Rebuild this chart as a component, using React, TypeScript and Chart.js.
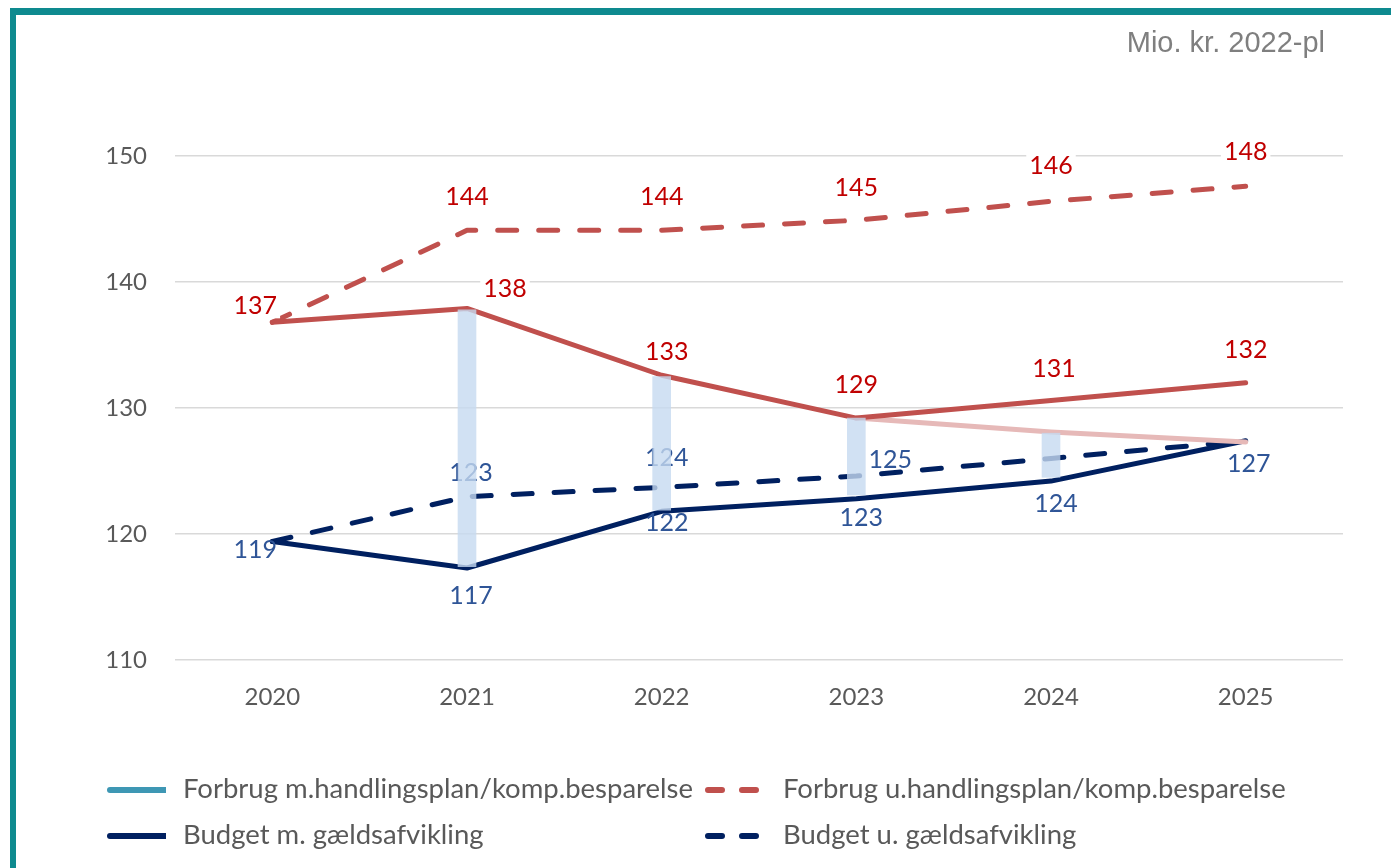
import React, { useEffect, useRef } from 'react';
import { Chart, registerables } from 'chart.js';

Chart.register(...registerables);

// ---------- data ----------
const categories = ['2020', '2021', '2022', '2023', '2024', '2025'];
const forbrugMed = [136.8, 137.9, 132.6, 129.2, 130.6, 132.0];
const forbrugUden = [136.8, 144.1, 144.1, 144.9, 146.4, 147.6];
const forbrugMedKomp = [null, null, null, 129.2, 128.1, 127.3];
const budgetMed = [119.4, 117.3, 121.8, 122.8, 124.2, 127.4];
const budgetUden = [119.4, 122.96, 123.7, 124.6, 126.0, 127.4];
const spanLow = [null, 117.4, 121.9, 123.1, 124.5, null];
const spanHigh = [null, 137.8, 132.5, 129.2, 128.0, null];
const yTicks = [110, 120, 130, 140, 150];

const legendLabels = [
  'Forbrug m.handlingsplan/komp.besparelse',
  'Forbrug u.handlingsplan/komp.besparelse',
  'Budget m. gældsafvikling',
  'Budget u. gældsafvikling',
];
const unitText = 'Mio. kr. 2022-pl';

// ---------- styles ----------
const RED = '#c0504d';
const PINK = '#e6b9b8';
const NAVY = '#002060';
const TEAL_LEGEND = '#3e97b4';
const LABEL_RED = '#c00000';
const LABEL_BLUE = '#2f5597';
const GRAY = '#595959';
const FONT = 'Lato, "Open Sans", sans-serif';

// label offsets (px) per dataset point, null = no label
const offRedSolid = [[-17, -16], [38, -20], [5, -23], [0, -33], [3, -32], [0, -33]];
const offRedDashed = [null, [0, -33], [0, -33], [0, -32], [0, -35], [0, -34]];
const offNavySolid = [[-17, 8], [4, 28], [5, 12], [5, 19], [5, 23], [3, 23]];
const offNavyDashed = [null, [4, -24], [5, -29], [34, -16], null, null];

export default function App() {
  const canvasRef = useRef<HTMLCanvasElement | null>(null);

  useEffect(() => {
    let chart: Chart | null = null;
    let cancelled = false;

    const labelSets = [
      { ds: 1, offsets: offRedSolid, color: LABEL_RED, bg: true },
      { ds: 3, offsets: offRedDashed, color: LABEL_RED, bg: true },
      { ds: 4, offsets: offNavySolid, color: LABEL_BLUE, bg: false },
      { ds: 5, offsets: offNavyDashed, color: LABEL_BLUE, bg: false },
    ];

    const labelPlugin = {
      id: 'valueLabels',
      beforeDatasetDraw(c: any, args: any) {
        if (args.index !== 0) return;
        const ctx = c.ctx;
        ctx.save();
        ctx.font = `25px ${FONT}`;
        ctx.textAlign = 'center';
        ctx.textBaseline = 'middle';
        labelSets.forEach((set) => {
          const meta = c.getDatasetMeta(set.ds);
          const data = c.data.datasets[set.ds].data as (number | null)[];
          set.offsets.forEach((off, j) => {
            if (!off || data[j] == null) return;
            const el = meta.data[j];
            const x = el.x + off[0];
            const y = el.y + off[1];
            const txt = String(Math.round(data[j] as number));
            if (set.bg) {
              const w = ctx.measureText(txt).width;
              ctx.fillStyle = '#ffffff';
              ctx.fillRect(x - w / 2 - 3, y - 12, w + 6, 24);
            }
            ctx.fillStyle = set.color;
            ctx.fillText(txt, x, y);
          });
        });
        ctx.restore();
      },
    };

    const create = () => {
      if (cancelled || !canvasRef.current) return;
      const lineBase = {
        type: 'line' as const,
        borderWidth: 5,
        pointRadius: 0,
        pointHoverRadius: 0,
        tension: 0,
        fill: false,
        borderCapStyle: 'round' as const,
        borderJoinStyle: 'round' as const,
        spanGaps: false,
      };
      chart = new Chart(canvasRef.current, {
        type: 'line',
        data: {
          labels: categories,
          datasets: [
            {
              type: 'bar',
              label: 'span',
              data: spanLow.map((lo, i) => (lo == null ? null : [lo, spanHigh[i] as number])) as any,
              backgroundColor: 'rgba(198,217,240,0.8)',
              borderWidth: 0,
              barThickness: 18,
              order: 0,
            } as any,
            { ...lineBase, label: 'Forbrug m.', data: forbrugMed, borderColor: RED, order: 1 },
            { ...lineBase, label: 'Forbrug m. komp', data: forbrugMedKomp, borderColor: PINK, order: 2 },
            { ...lineBase, label: 'Forbrug u.', data: forbrugUden, borderColor: RED, borderDash: [19, 22], borderCapStyle: 'round', order: 3 },
            { ...lineBase, label: 'Budget m.', data: budgetMed, borderColor: NAVY, order: 4 },
            { ...lineBase, label: 'Budget u.', data: budgetUden, borderColor: NAVY, borderDash: [19, 22], borderCapStyle: 'round', order: 5 },
          ],
        },
        options: {
          animation: false,
          responsive: true,
          maintainAspectRatio: false,
          events: [],
          layout: { padding: { top: 156, left: 0, right: 48, bottom: 148 } },
          plugins: {
            legend: { display: false },
            tooltip: { enabled: false },
            title: { display: false },
          },
          scales: {
            x: {
              type: 'category',
              offset: true,
              grid: { display: false, drawTicks: false },
              border: { display: false },
              ticks: { color: GRAY, font: { family: FONT, size: 24 }, padding: 23, maxRotation: 0 },
              afterFit: (s: any) => { s.height = 60; },
            },
            y: {
              type: 'linear',
              min: yTicks[0],
              max: yTicks[yTicks.length - 1],
              afterBuildTicks: (s: any) => { s.ticks = yTicks.map((v) => ({ value: v })); },
              grid: { color: '#d9d9d9', lineWidth: 1.5, drawTicks: false },
              border: { display: false },
              ticks: { color: GRAY, font: { family: FONT, size: 24 }, padding: 28 },
              afterFit: (s: any) => { s.width = 175; },
            },
          },
        },
        plugins: [labelPlugin],
      } as any);
    };

    if ((document as any).fonts && (document as any).fonts.load) {
      (document as any).fonts.load(`24px Lato`).then(create, create);
    } else {
      create();
    }

    return () => {
      cancelled = true;
      if (chart) chart.destroy();
    };
  }, []);

  const legendText: React.CSSProperties = {
    position: 'absolute',
    fontFamily: FONT,
    fontSize: 27.5,
    lineHeight: '32px',
    color: GRAY,
    whiteSpace: 'nowrap',
  };

  const sample = (x: number, y: number, color: string, dashed: boolean) => (
    <svg style={{ position: 'absolute', left: x, top: y - 6 }} width={60} height={12}>
      {dashed ? (
        <line x1={5} y1={6} x2={53} y2={6} stroke={color} strokeWidth={6} strokeLinecap="round" strokeDasharray="14 20" />
      ) : (
        <line x1={4} y1={6} x2={64} y2={6} stroke={color} strokeWidth={6} strokeLinecap="round" />
      )}
    </svg>
  );

  return (
    <div style={{ position: 'fixed', left: 0, top: 0, width: 1391, height: 868, background: '#ffffff', overflow: 'hidden' }}>
      <div style={{ position: 'absolute', left: 0, top: 0, width: 1391, height: 868 }}>
        <canvas ref={canvasRef} />
      </div>
      <div style={{ position: 'absolute', left: 10, top: 8, width: 1381, height: 7, background: '#0e8a8f' }} />
      <div style={{ position: 'absolute', left: 10, top: 8, width: 6, height: 860, background: '#0e8a8f' }} />
      <div style={{ position: 'absolute', right: 66, top: 25, fontFamily: '"Liberation Sans", Arial, sans-serif', fontSize: 29, lineHeight: '34px', color: '#7f7f7f', whiteSpace: 'nowrap' }}>
        {unitText}
      </div>
      {sample(106, 790, TEAL_LEGEND, false)}
      <div style={{ ...legendText, left: 183, top: 772 }}>{legendLabels[0]}</div>
      {sample(703, 790, RED, true)}
      <div style={{ ...legendText, left: 783, top: 772 }}>{legendLabels[1]}</div>
      {sample(106, 836, NAVY, false)}
      <div style={{ ...legendText, left: 183, top: 818 }}>{legendLabels[2]}</div>
      {sample(703, 836, NAVY, true)}
      <div style={{ ...legendText, left: 783, top: 818 }}>{legendLabels[3]}</div>
    </div>
  );
}
